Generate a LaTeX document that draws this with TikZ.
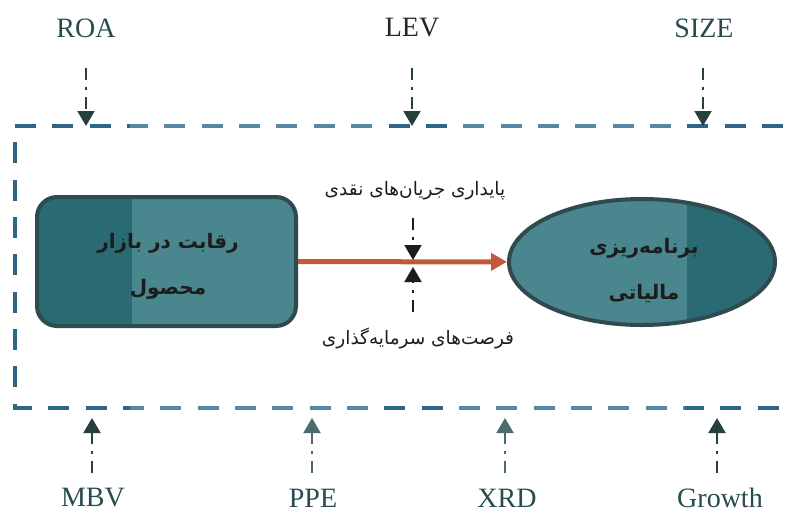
\documentclass[tikz,border=0pt]{standalone}
\usepackage{fontspec}
\setmainfont{Liberation Serif}
\newfontfamily\fa[Script=Arabic]{DejaVu Sans}
\TeXXeTstate=1
\usetikzlibrary{arrows.meta,shapes.geometric}
\definecolor{lbl}{HTML}{274B4E}
\definecolor{lbldark}{HTML}{222828}
\definecolor{frameD}{HTML}{2F6586}
\definecolor{frameL}{HTML}{5787A2}
\definecolor{arrD}{HTML}{26403F}
\definecolor{arrL}{HTML}{4B6B6E}
\definecolor{tealD}{HTML}{2A6A73}
\definecolor{tealL}{HTML}{4A868D}
\definecolor{edgec}{HTML}{2F4B4F}
\definecolor{rust}{HTML}{C05A3A}
\definecolor{ink}{HTML}{1C1C1C}
\begin{document}
\begin{tikzpicture}[x=1pt,y=-1pt,
  lab/.style={font=\fontsize{28}{30}\selectfont, text=lbl, inner sep=0pt},
  falab/.style={font=\fa\fontsize{18.5}{20}\selectfont, text=ink, inner sep=0pt},
  ctl/.style={line width=2pt, dash pattern=on 12pt off 7pt on 3pt off 7pt, -{Triangle[length=15pt,width=17pt]}},
  framepath/.style={line width=4.5pt, dash pattern=on 21pt off 16.35pt, line cap=butt, line join=miter},
  boxnode/.style={rectangle, rounded corners=20pt, minimum width=259pt, minimum height=129pt,
    draw=edgec, line width=4pt, fill=tealD,
    path picture={\fill[tealL, sharp corners] ([xshift=95pt]path picture bounding box.south west) rectangle (path picture bounding box.north east);}},
  ellnode/.style={ellipse, minimum width=266pt, minimum height=126pt, inner sep=0pt,
    draw=edgec, line width=4pt, fill=tealD,
    path picture={\fill[tealL, sharp corners] (path picture bounding box.south west) rectangle ([xshift=178pt]path picture bounding box.north west);}},
  intext/.style={align=center, text=ink, inner sep=0pt,
    font=\fa\bfseries\fontsize{20}{46}\selectfont},
  mainarrow/.style={line width=5pt, draw=rust, -{Triangle[length=16pt,width=17pt]}}
]
\useasboundingbox (0,0) rectangle (792,514);

% frame
\draw[framepath, frameD] (783,126) -- (15,126) -- (15,408) -- (783,408);
\begin{scope}
  \clip (130,0) rectangle (375,514) (450,0) rectangle (685,514);
  \draw[framepath, frameL] (783,126) -- (15,126) -- (15,408) -- (783,408);
\end{scope}

% labels
\node[lab] (roa) at (86,28) {ROA};
\node[lab, text=lbldark] (lev) at (412,28) {LEV};
\node[lab] (size) at (704,28) {SIZE};
\node[lab] (mbv) at (93,498) {MBV};
\node[lab] (ppe) at (313,498) {PPE};
\node[lab] (xrd) at (507,498) {XRD};
\node[lab] (growth) at (720,498) {Growth};

\coordinate (roaS) at (86,68);   \coordinate (roaE) at (86,126);
\coordinate (levS) at (412,68);  \coordinate (levE) at (412,126);
\coordinate (sizeS) at (703,68); \coordinate (sizeE) at (703,126);
\coordinate (mbvS) at (92,473);  \coordinate (mbvE) at (92,418);
\coordinate (ppeS) at (312,473); \coordinate (ppeE) at (312,418);
\coordinate (xrdS) at (505,473); \coordinate (xrdE) at (505,418);
\coordinate (groS) at (717,473); \coordinate (groE) at (717,418);

\draw[ctl, arrD] (roaS) -- (roaE);
\draw[ctl, arrD] (levS) -- (levE);
\draw[ctl, arrD] (sizeS) -- (sizeE);
\draw[ctl, arrD] (mbvS) -- (mbvE);
\draw[ctl, arrL] (ppeS) -- (ppeE);
\draw[ctl, arrL] (xrdS) -- (xrdE);
\draw[ctl, arrD] (groS) -- (groE);

% main shapes
\node[boxnode] (pmc) at (166.5,261.5) {};
\node[intext] (pmcT) at (168,266) {\beginR رقابت در بازار\endR\\\beginR محصول\endR};
\node[ellnode] (tp) at (642,262) {};
\node[intext] (tpT) at (644,271) {\beginR برنامه‌ریزی\endR\\\beginR مالیاتی\endR};
\draw[mainarrow] (pmc) -- (tp);

% moderators
\node[falab] (cfs) at (415,191) {\beginR پایداری جریان‌های نقدی\endR};
\node[falab] (iop) at (418,338) {\beginR فرصت‌های سرمایه‌گذاری\endR};
\coordinate (cfsS) at (413,218); \coordinate (cfsE) at (413,260);
\coordinate (iopS) at (413,312); \coordinate (iopE) at (413,267);
\draw[ctl, ink] (cfsS) -- (cfsE);
\draw[ctl, ink] (iopS) -- (iopE);
\end{tikzpicture}
\end{document}
